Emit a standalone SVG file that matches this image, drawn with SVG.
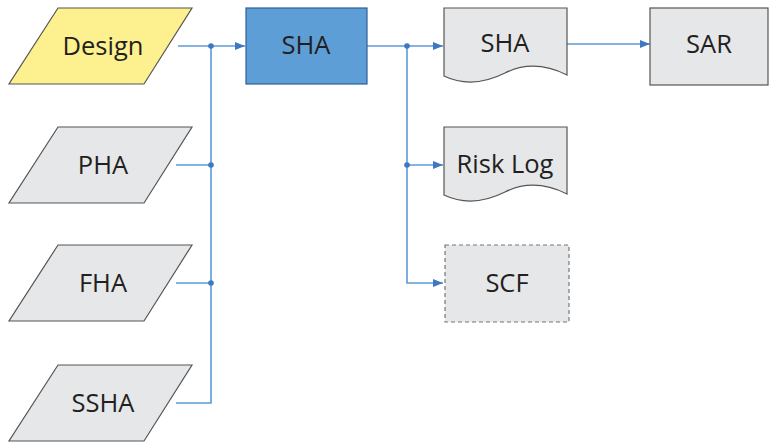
<svg xmlns="http://www.w3.org/2000/svg" width="769" height="442" viewBox="0 0 769 442">
<style>
.shape{fill:#e6e7e8;stroke:#555;stroke-width:1.2}
.label{font-family:"Open Sans","Liberation Sans",sans-serif;font-size:25.5px;fill:#231f20;text-anchor:middle;dominant-baseline:central}
.conn{fill:none;stroke:#5b9bd5;stroke-width:1.6}
.dot{fill:#3f77c0}
</style>
<defs>
<marker id="arr" viewBox="0 0 10 10" refX="10" refY="5" markerWidth="10" markerHeight="10" markerUnits="userSpaceOnUse" orient="auto">
<path d="M0,1 L10,5 L0,9 Z" fill="#3f77c0"/>
</marker>
</defs>
<rect width="769" height="442" fill="#fff"/>
<g id="connectors">
<path class="conn" d="M178,46 H245" marker-end="url(#arr)"/>
<path class="conn" d="M176,165 H211 M176,283 H211 M176,403 H211 V46"/>
<path class="conn" d="M367,46 H443" marker-end="url(#arr)"/>
<path class="conn" d="M407,46 V283 H443" marker-end="url(#arr)"/>
<path class="conn" d="M407,165 H443" marker-end="url(#arr)"/>
<path class="conn" d="M567,44 H650" marker-end="url(#arr)"/>
<circle class="dot" cx="211" cy="46" r="2.8"/>
<circle class="dot" cx="211" cy="165" r="2.8"/>
<circle class="dot" cx="211" cy="283" r="2.8"/>
<circle class="dot" cx="407" cy="46" r="2.8"/>
<circle class="dot" cx="407" cy="165" r="2.8"/>
</g>
<g id="design">
<polygon points="58,8 192,8 144,84 9,84" fill="#fdf18f" stroke="#555" stroke-width="1.2"/>
<text class="label" x="103" y="45">Design</text>
</g>
<g id="pha">
<polygon class="shape" points="58,127 192,127 144,203 9,203"/>
<text class="label" x="103" y="164">PHA</text>
</g>
<g id="fha">
<polygon class="shape" points="58,245 192,245 144,321 9,321"/>
<text class="label" x="103" y="282">FHA</text>
</g>
<g id="ssha">
<polygon class="shape" points="58,365 192,365 144,441 9,441"/>
<text class="label" x="103" y="402">SSHA</text>
</g>
<g id="sha">
<rect x="246" y="8" width="121" height="76" fill="#5e9ed6" stroke="#2f5f96" stroke-width="1.2"/>
<text class="label" x="306" y="44">SHA</text>
</g>
<g id="sha-doc">
<path class="shape" d="M444,8 H567 V75 C545,64 525,63 505,73 C485,83 465,86 444,76 Z"/>
<text class="label" x="505" y="42">SHA</text>
</g>
<g id="risklog">
<path class="shape" d="M444,127 H567 V194 C545,183 525,182 505,192 C485,202 465,205 444,195 Z"/>
<text class="label" x="505" y="163">Risk Log</text>
</g>
<g id="scf">
<rect x="445" y="245" width="124" height="77" fill="#e6e7e8" stroke="#777" stroke-width="1.2" stroke-dasharray="4,3"/>
<text class="label" x="507" y="282">SCF</text>
</g>
<g id="sar">
<rect x="650" y="8" width="118" height="77" class="shape"/>
<text class="label" x="709" y="43">SAR</text>
</g>
</svg>
